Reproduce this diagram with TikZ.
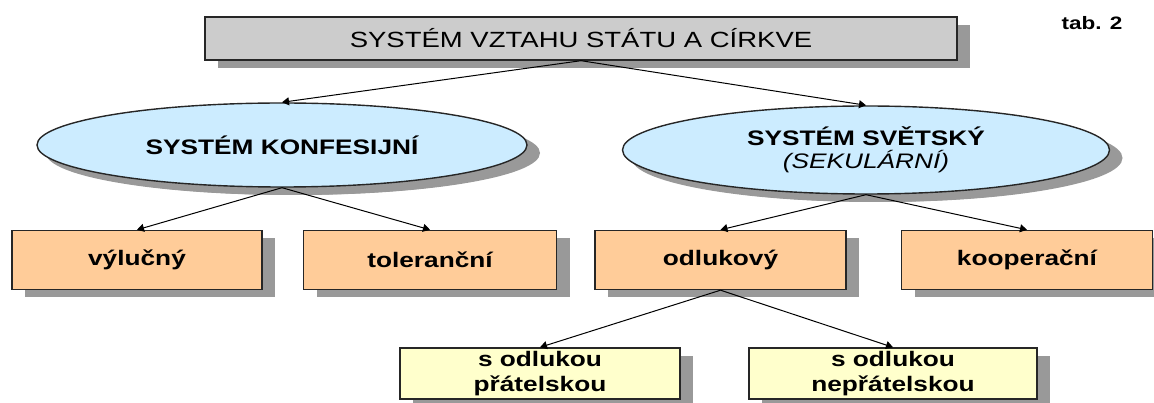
\documentclass[tikz,border=0pt]{standalone}
\usepackage{fontspec}
\setmainfont{Liberation Sans}
\newfontfamily\wide[FakeStretch=1.25]{Liberation Sans}
\usepackage{tikz}
\usetikzlibrary{arrows.meta,shadows,shapes.geometric}
\definecolor{headgray}{RGB}{204,204,204}
\definecolor{sysblue}{RGB}{204,236,255}
\definecolor{kindorange}{RGB}{255,204,153}
\definecolor{subyellow}{RGB}{255,255,204}
\definecolor{shadowgray}{RGB}{153,153,153}

\begin{document}
\begin{tikzpicture}[x=1pt, y=-1pt, line width=1pt, >={Triangle[length=7pt,width=8pt]},
  main/.style = {draw=black!85, line width=1.4pt, align=center, inner sep=0pt,
    font=\wide\bfseries\fontsize{21}{23}\selectfont,
    drop shadow={shadow xshift=13pt, shadow yshift=-8pt, fill=shadowgray, opacity=1}},
  head/.style = {main, rectangle, fill=headgray, minimum width=752pt, minimum height=43pt,
    font=\wide\fontsize{22}{26}\selectfont},
  sys/.style = {main, ellipse, fill=sysblue, minimum width=490pt, minimum height=84pt,
    drop shadow={shadow xshift=9pt, shadow yshift=-8pt, fill=shadowgray, opacity=1}},
  kind/.style = {main, rectangle, fill=kindorange, minimum width=251pt, minimum height=59pt},
  sub/.style = {main, rectangle, fill=subyellow, minimum height=51pt,
    font=\wide\bfseries\fontsize{21}{25}\selectfont}]
\useasboundingbox (0,0) rectangle (1154,403);
\node[head] (stat) at (581,38.5) {SYSTÉM VZTAHU STÁTU A CÍRKVE};
\node[font=\wide\bfseries\fontsize{18}{20}\selectfont] (tab) at (1092,23) {tab. 2};
\node[sys] (konf) at (282,145) {SYSTÉM KONFESIJNÍ};
\node[sys, minimum width=487pt, minimum height=88pt] (svet) at (866,150)
  {SYSTÉM SVĚTSKÝ\\{\mdseries\itshape (SEKULÁRNÍ)}};
\node[kind, minimum width=250pt] (vyl) at (137,260) {výlučný};
\node[kind, minimum width=253pt] (tol) at (430,260) {toleranční};
\node[kind] (odl) at (720.5,260) {odlukový};
\node[kind] (koop) at (1027,260) {kooperační};
\node[sub, minimum width=280pt] (prat) at (540,373.5) {s odlukou\\přátelskou};
\node[sub, minimum width=288pt] (neprat) at (893,373.5) {s odlukou\\nepřátelskou};
\draw[->] (stat.south) -- (konf.north);
\draw[->] (stat.south) -- (svet.north);
\draw[->] (konf.south) -- (vyl.north);
\draw[->] (konf.south) -- (tol.north);
\draw[->] (svet.south) -- (odl.north);
\draw[->] (svet.south) -- (koop.north);
\draw[->] (odl.south) -- (prat.north);
\draw[->] (odl.south) -- (neprat.north);
\end{tikzpicture}
\end{document}
